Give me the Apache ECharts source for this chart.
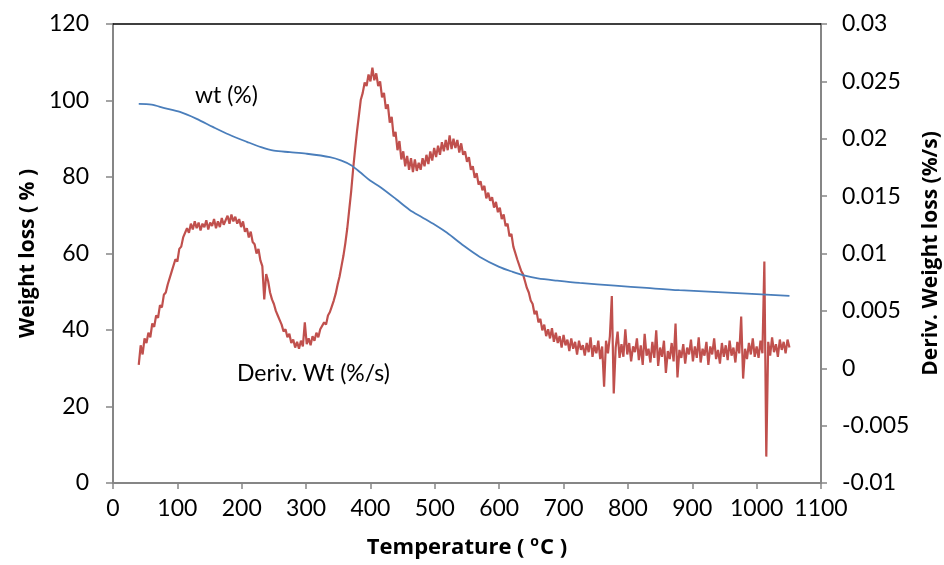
<!DOCTYPE html>
<html>
<head>
<meta charset="utf-8">
<script src="https://cdn.jsdelivr.net/npm/echarts@6/dist/echarts.min.js"></script>
<style>
  html, body { margin: 0; padding: 0; background: #fff; }
  #chart { width: 944px; height: 565px; }
</style>
</head>
<body>
<div id="chart"></div>
<script>
// TGA run: residual weight (%) and its derivative (%/s) versus temperature.

// Residual weight curve
const wtTemps = [40, 60, 80, 104, 130, 155, 180, 208, 230, 250, 275, 300, 337, 355, 370, 385, 400, 415, 440, 461, 480, 500, 519, 545, 570, 600, 621, 640, 660, 690, 725, 780, 829, 880, 940, 1000, 1051];
const wtValues = [99.1, 98.9, 98.0, 97.0, 95.2, 93.1, 91.1, 89.2, 87.8, 86.9, 86.5, 86.1, 85.2, 84.3, 83.1, 81.1, 79.0, 77.4, 74.2, 71.4, 69.5, 67.5, 65.4, 62.0, 59.1, 56.5, 55.2, 54.2, 53.5, 52.9, 52.3, 51.6, 51.0, 50.4, 49.9, 49.4, 48.9];

// Derivative curve, sampled every 3 °C from 40 °C
const derivStart = 40;
const derivStep = 3;
const derivValues = [
  0.0003, 0.0020, 0.0012, 0.0026, 0.0022, 0.0031, 0.0027, 0.0039, 0.0036, 0.0046,
  0.0044, 0.0055, 0.0053, 0.0064, 0.0066, 0.0073, 0.0072, 0.0084, 0.0085, 0.0095,
  0.0093, 0.0104, 0.0106, 0.0114, 0.0113, 0.0122, 0.0118, 0.0126, 0.0121, 0.0128,
  0.0122, 0.0127, 0.0120, 0.0126, 0.0123, 0.0129, 0.0121, 0.0127, 0.0124, 0.0130,
  0.0122, 0.0128, 0.0123, 0.0131, 0.0125, 0.0129, 0.0133, 0.0126, 0.0134, 0.0128,
  0.0132, 0.0126, 0.0130, 0.0123, 0.0128, 0.0119, 0.0122, 0.0114, 0.0119, 0.0110,
  0.0108, 0.0100, 0.0104, 0.0094, 0.0089, 0.0060, 0.0082, 0.0076, 0.0066, 0.0060,
  0.0056, 0.0050, 0.0046, 0.0042, 0.0038, 0.0032, 0.0034, 0.0027, 0.0030, 0.0022,
  0.0025, 0.0018, 0.0023, 0.0017, 0.0024, 0.0019, 0.0040, 0.0021, 0.0026, 0.0020,
  0.0028, 0.0024, 0.0031, 0.0027, 0.0034, 0.0033, 0.0040, 0.0038, 0.0046, 0.0049,
  0.0054, 0.0059, 0.0065, 0.0073, 0.0080, 0.0089, 0.0098, 0.0109, 0.0122, 0.0138,
  0.0154, 0.0173, 0.0190, 0.0206, 0.0220, 0.0234, 0.0240, 0.0249, 0.0246, 0.0256,
  0.0250, 0.0262, 0.0251, 0.0257, 0.0246, 0.0250, 0.0236, 0.0240, 0.0226, 0.0230,
  0.0214, 0.0219, 0.0202, 0.0206, 0.0190, 0.0198, 0.0182, 0.0189, 0.0176, 0.0185,
  0.0173, 0.0183, 0.0171, 0.0182, 0.0172, 0.0179, 0.0173, 0.0183, 0.0176, 0.0186,
  0.0178, 0.0189, 0.0181, 0.0192, 0.0184, 0.0194, 0.0186, 0.0197, 0.0189, 0.0199,
  0.0190, 0.0203, 0.0191, 0.0200, 0.0192, 0.0199, 0.0188, 0.0196, 0.0186, 0.0189,
  0.0180, 0.0184, 0.0173, 0.0176, 0.0166, 0.0170, 0.0160, 0.0163, 0.0155, 0.0159,
  0.0148, 0.0153, 0.0146, 0.0149, 0.0140, 0.0145, 0.0136, 0.0140, 0.0130, 0.0134,
  0.0124, 0.0126, 0.0115, 0.0117, 0.0106, 0.0105, 0.0095, 0.0094, 0.0085, 0.0082,
  0.0076, 0.0070, 0.0066, 0.0059, 0.0056, 0.0047, 0.0050, 0.0040, 0.0043, 0.0033,
  0.0038, 0.0028, 0.0034, 0.0026, 0.0035, 0.0023, 0.0031, 0.0022, 0.0028, 0.0018,
  0.0029, 0.0020, 0.0025, 0.0015, 0.0026, 0.0017, 0.0023, 0.0012, 0.0024, 0.0016,
  0.0020, 0.0011, 0.0022, 0.0014, 0.0027, 0.0010, 0.0020, 0.0013, 0.0024, 0.0008,
  0.0019, -0.0016, 0.0024, 0.0013, 0.0028, 0.0063, -0.0022, 0.0018, 0.0032, 0.0009,
  0.0021, 0.0010, 0.0034, 0.0012, 0.0022, 0.0006, 0.0019, 0.0014, 0.0026, 0.0007,
  0.0020, 0.0003, 0.0030, 0.0011, 0.0017, 0.0005, 0.0023, 0.0009, 0.0033, 0.0002,
  0.0018, 0.0010, 0.0024, -0.0004, 0.0015, 0.0008, 0.0022, 0.0006, 0.0039, -0.0008,
  0.0016, 0.0009, 0.0021, 0.0004, 0.0018, 0.0012, 0.0025, 0.0006, 0.0019, 0.0009,
  0.0027, 0.0005, 0.0017, 0.0011, 0.0023, 0.0003, 0.0019, 0.0012, 0.0026, 0.0008,
  0.0016, 0.0004, 0.0022, 0.0010, 0.0020, 0.0007, 0.0024, 0.0011, 0.0018, 0.0005,
  0.0023, 0.0013, 0.0045, -0.0009, 0.0017, 0.0008, 0.0022, 0.0012, 0.0026, 0.0010,
  0.0019, 0.0009, 0.0024, 0.0013, 0.0093, -0.0077, 0.0023, 0.0011, 0.0027, 0.0014,
  0.0021, 0.0010, 0.0025, 0.0016, 0.0023, 0.0013, 0.0025, 0.0018
];

// Axis ranges
const tempMin = 0, tempMax = 1100, tempStep = 100;
const wtMin = 0, wtMax = 120, wtStep = 20;
const derivMin = -0.01, derivMax = 0.03, derivTick = 0.005;

const FONT = 'Lato';
const TITLE_FONT = 'Open Sans';
const axisGrey = '#868686';

const wtData = wtTemps.map((t, i) => [t, wtValues[i]]);
const derivData = derivValues.map((v, i) => [derivStart + i * derivStep, v]);

const chart = echarts.init(document.getElementById('chart'), null, { renderer: 'canvas' });

const titleStyle = { fontFamily: TITLE_FONT, fontWeight: 'bold', fontSize: 21, color: '#000' };

chart.setOption({
  animation: false,
  backgroundColor: '#ffffff',
  grid: { left: 113, right: 123, top: 24, bottom: 82, containLabel: false, outerBoundsMode: 'none' },
  xAxis: [
    {
      type: 'value', min: tempMin, max: tempMax, interval: tempStep,
      position: 'bottom',
      name: 'Temperature ( {sup|o}C )',
      nameLocation: 'middle', nameGap: 52,
      nameTextStyle: {
        fontFamily: TITLE_FONT, fontWeight: 'bold', fontSize: 22, color: '#000', lineHeight: 26,
        rich: {
          sup: {
            fontFamily: TITLE_FONT, fontWeight: 'bold', fontSize: 14, color: '#000',
            lineHeight: 14, verticalAlign: 'bottom', padding: [0, 1, 12, 0]
          }
        }
      },
      axisLine: { show: true, onZero: false, lineStyle: { color: axisGrey, width: 2 } },
      axisTick: { show: true, inside: false, length: 6, lineStyle: { color: axisGrey, width: 1.5 } },
      axisLabel: { fontFamily: FONT, fontSize: 23, color: '#000', margin: 14, formatter: v => String(v) },
      splitLine: { show: false }
    },
    {
      type: 'value', min: tempMin, max: tempMax, position: 'top',
      axisLine: { show: true, onZero: false, lineStyle: { color: '#000', width: 1.5 } },
      axisTick: { show: false }, axisLabel: { show: false }, splitLine: { show: false }
    }
  ],
  yAxis: [
    {
      type: 'value', min: wtMin, max: wtMax, interval: wtStep,
      position: 'left',
      name: 'Weight loss ( % )',
      nameLocation: 'middle', nameGap: 73, nameRotate: 90,
      nameTextStyle: titleStyle,
      axisLine: { show: true, onZero: false, lineStyle: { color: axisGrey, width: 2 } },
      axisTick: { show: true, inside: false, length: 7, lineStyle: { color: axisGrey, width: 1.5 } },
      axisLabel: { fontFamily: FONT, fontSize: 23, color: '#000', margin: 24 },
      splitLine: { show: false }
    },
    {
      type: 'value', min: derivMin, max: derivMax, interval: derivTick,
      position: 'right',
      name: 'Deriv. Weight loss (%/s)',
      nameLocation: 'middle', nameGap: 84, nameRotate: 90,
      nameTextStyle: titleStyle,
      axisLine: { show: true, onZero: false, lineStyle: { color: axisGrey, width: 2 } },
      axisTick: { show: true, inside: false, length: 6, lineStyle: { color: axisGrey, width: 1.5 } },
      axisLabel: {
        fontFamily: FONT, fontSize: 23, color: '#000', margin: 21,
        formatter: v => String(+v.toFixed(3))
      },
      splitLine: { show: false }
    }
  ],
  series: [
    {
      name: 'Deriv. Wt (%/s)', type: 'line', xAxisIndex: 0, yAxisIndex: 1,
      data: derivData, showSymbol: false, smooth: false,
      lineStyle: { color: '#C0504D', width: 2.2 }, z: 2
    },
    {
      name: 'wt (%)', type: 'line', xAxisIndex: 0, yAxisIndex: 0,
      data: wtData, showSymbol: false, smooth: 0.3,
      lineStyle: { color: '#4A7EBB', width: 1.8 }, z: 3
    }
  ],
  graphic: [
    { type: 'text', left: 195, top: 84, style: { text: 'wt (%)', fontFamily: FONT, fontSize: 23, fill: '#000' } },
    { type: 'text', left: 237, top: 362, style: { text: 'Deriv. Wt (%/s)', fontFamily: FONT, fontSize: 23, fill: '#000' } }
  ]
});
</script>
</body>
</html>
